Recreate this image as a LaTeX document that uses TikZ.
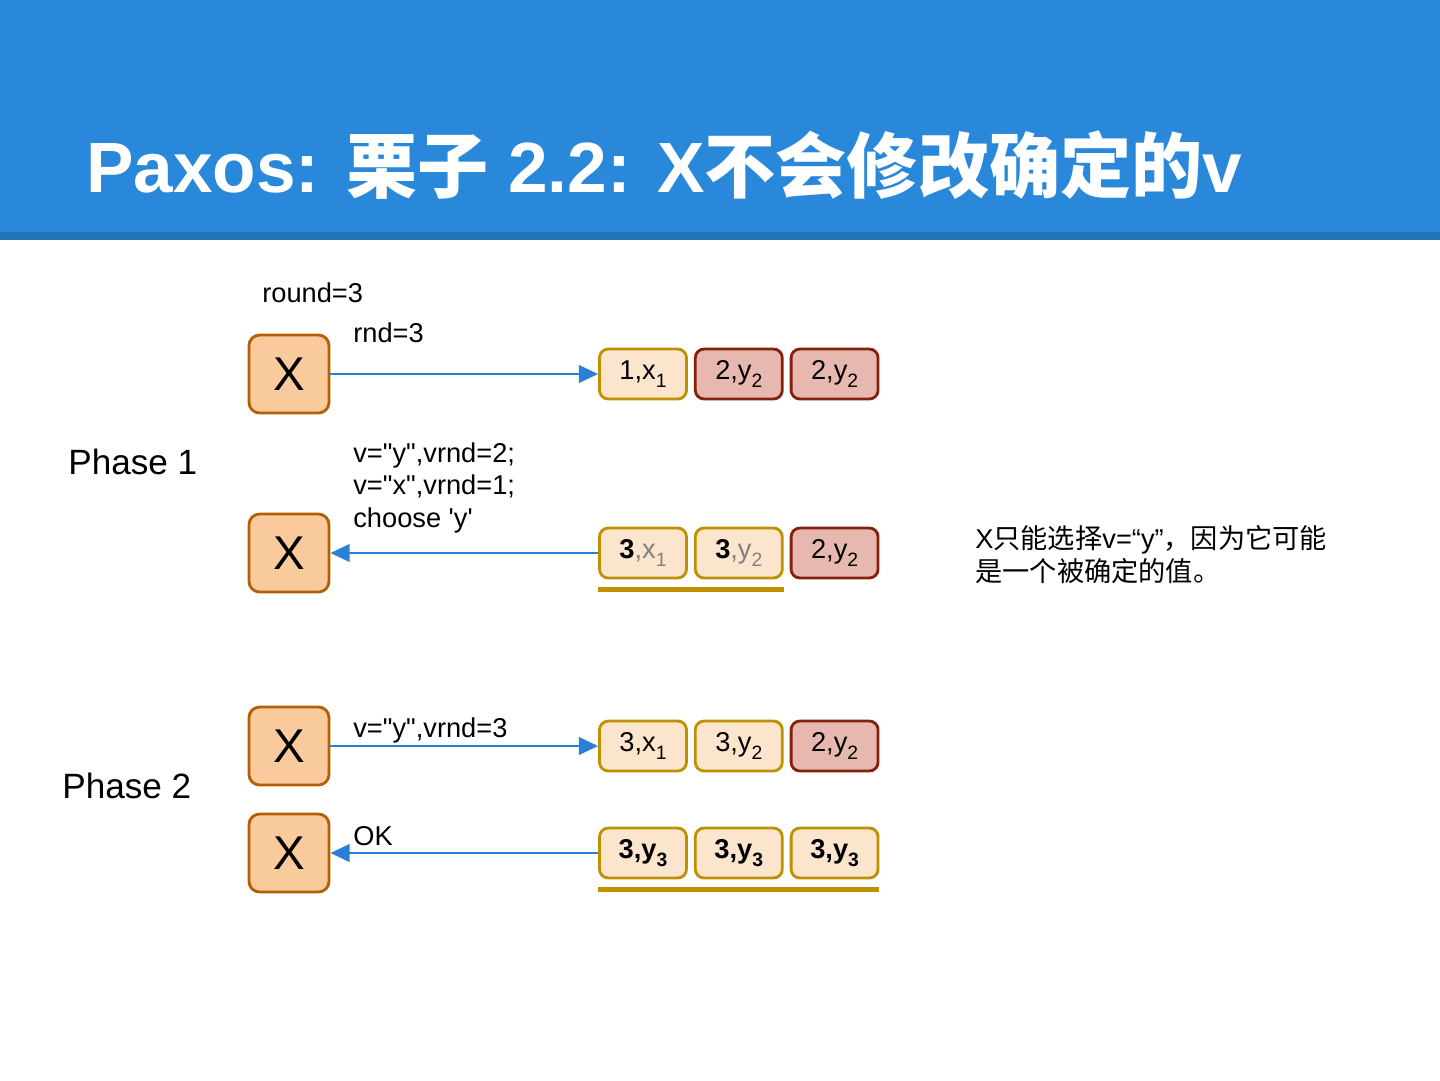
\documentclass[tikz,border=0pt]{standalone}
\usepackage{fontspec}
\setmainfont{Liberation Sans}
\newfontfamily\cjk{Noto Sans CJK SC}
\usetikzlibrary{positioning,arrows.meta}
\definecolor{hdblue}{HTML}{2A88DA}
\definecolor{hdline}{HTML}{2272B8}
\definecolor{xfill}{HTML}{F9CB9C}
\definecolor{xdraw}{HTML}{B45F06}
\definecolor{yfill}{HTML}{FCE5CD}
\definecolor{ydraw}{HTML}{BF9000}
\definecolor{rfill}{HTML}{E6B8AF}
\definecolor{rdraw}{HTML}{85200C}
\definecolor{arr}{HTML}{2B7FD5}
\newcommand{\sbx}[1]{\raisebox{-0.6ex}{\fontsize{11}{11}\selectfont #1}}
\newcommand{\dq}{\textquotedbl}
\begin{document}
\begin{tikzpicture}[x=0.02cm, y=-0.02cm,
    xbox/.style={draw=xdraw, fill=xfill, line width=1.6pt, rounded corners=6pt,
        minimum width=1.6cm, minimum height=1.56cm, font=\fontsize{27}{27}\selectfont},
    cell/.style={line width=1.6pt, rounded corners=5pt, minimum width=1.74cm,
        minimum height=1.0cm, inner sep=0pt, font=\fontsize{15.5}{18}\selectfont},
    ycell/.style={cell, draw=ydraw, fill=yfill},
    rcell/.style={cell, draw=rdraw, fill=rfill},
    lbl/.style={anchor=base west, inner sep=0pt, font=\fontsize{15.5}{18.7}\selectfont},
    msg/.style={draw=arr, line width=1.5pt, -{Triangle[length=11pt,width=10pt]}},
    uline/.style={draw=ydraw, line width=2.8pt}]
    \useasboundingbox (0,0) rectangle (1440,1080);

    % Header
    \fill[hdblue] (0,0) rectangle (1440,232);
    \fill[hdline] (0,232) rectangle (1440,240);
    \node[anchor=base west, inner sep=0pt, text=white, font=\fontsize{40.5}{40}\selectfont\bfseries]
        (title) at (86,192) {Paxos: {\cjk 栗子} 2.2: X{\cjk 不会修改确定的}v};

    % Proposers
    \node[xbox] (p1) at (289,374) {X};
    \node[xbox] (p2) at (289,553) {X};
    \node[xbox] (p3) at (289,746) {X};
    \node[xbox] (p4) at (289,853) {X};

    % Acceptors
    \node[ycell] (a1) at (643,374) {1,x\sbx{1}};
    \node[rcell, right=0.12cm of a1] (b1) {2,y\sbx{2}};
    \node[rcell, right=0.12cm of b1] (c1) {2,y\sbx{2}};

    \node[ycell] (a2) at (643,553) {\textbf{3}{\color{gray},x\sbx{1}}};
    \node[ycell, right=0.12cm of a2] (b2) {\textbf{3}{\color{gray},y\sbx{2}}};
    \node[rcell, right=0.12cm of b2] (c2) {2,y\sbx{2}};

    \node[ycell] (a3) at (643,746) {3,x\sbx{1}};
    \node[ycell, right=0.12cm of a3] (b3) {3,y\sbx{2}};
    \node[rcell, right=0.12cm of b3] (c3) {2,y\sbx{2}};

    \node[ycell] (a4) at (643,853) {\textbf{3,y\sbx{3}}};
    \node[ycell, right=0.12cm of a4] (b4) {\textbf{3,y\sbx{3}}};
    \node[ycell, right=0.12cm of b4] (c4) {\textbf{3,y\sbx{3}}};

    % Underlines
    \draw[uline] ([yshift=-0.2cm]a2.south west) -- ([yshift=-0.2cm]b2.south east);
    \draw[uline] ([yshift=-0.2cm]a4.south west) -- ([yshift=-0.2cm]c4.south east);

    % Messages
    \draw[msg] (p1) -- (a1);
    \draw[msg] (a2) -- (p2);
    \draw[msg] (p3) -- (a3);
    \draw[msg] (a4) -- (p4);

    % Labels
    \node[lbl] (rd) at (262,302) {round=3};
    \node[lbl] (m1) at (353,342) {rnd=3};
    \node[lbl, align=left, anchor=north west] (m2) at (353,442)
        {v=\dq y\dq,vrnd=2;\\v=\dq x\dq,vrnd=1;\\choose \textquotesingle y\textquotesingle};
    \node[lbl] (m3) at (353,737) {v=\dq y\dq,vrnd=3};
    \node[lbl] (m4) at (353,845) {OK};
    \node[anchor=base west, inner sep=0pt, font=\fontsize{20}{20}\selectfont] (ph1) at (68,474) {Phase 1};
    \node[anchor=base west, inner sep=0pt, font=\fontsize{20}{20}\selectfont] (ph2) at (62,798) {Phase 2};
    \node[anchor=north west, inner sep=0pt, align=left, font=\fontsize{15.5}{18.7}\selectfont] (note) at (975,525)
        {X{\cjk 只能选择}v=“y”{\cjk ，因为它可能}\\{\cjk 是一个被确定的值。}};
\end{tikzpicture}
\end{document}
